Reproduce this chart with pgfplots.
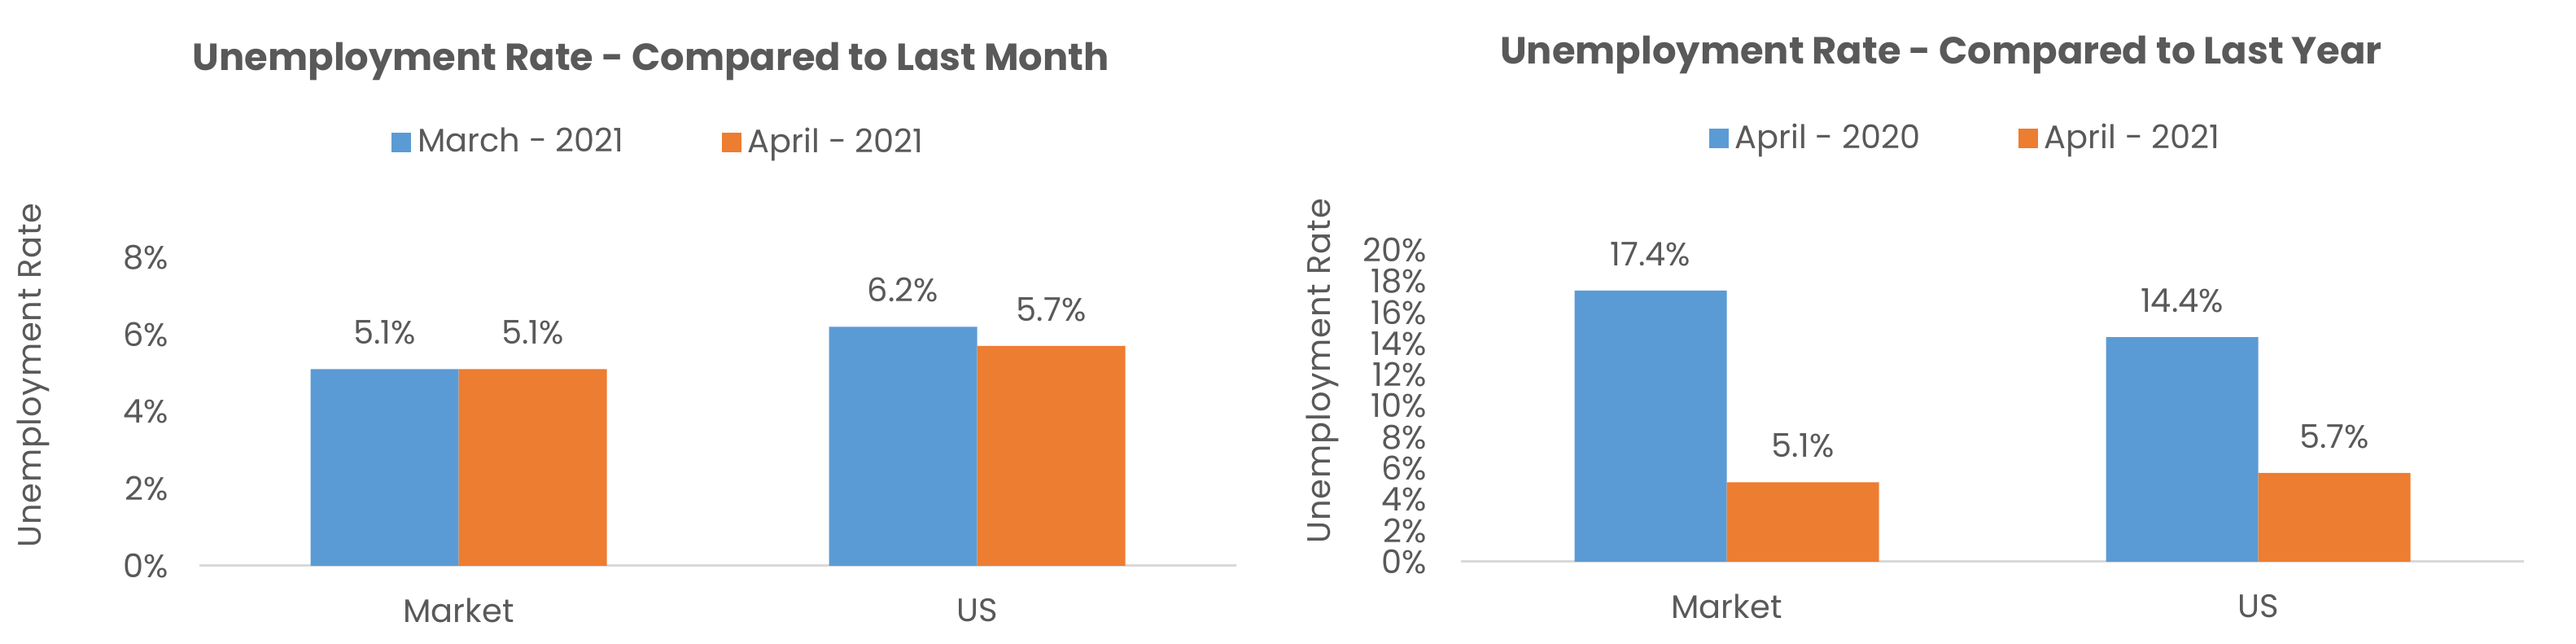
\documentclass[border=0pt]{standalone}
\usepackage{pgfplots}
\pgfplotsset{compat=1.18}
\usepackage{fontspec}
\setmainfont{Poppins}
\newfontfamily\ylabfont[LetterSpace=2]{Poppins}
\definecolor{cblue}{HTML}{5B9BD5}
\definecolor{corange}{HTML}{ED7D31}
\definecolor{ctext}{HTML}{595959}
\definecolor{caxis}{HTML}{D9D9D9}
\pgfplotsset{
  mystyle/.style={
    scale only axis, anchor=south west,
    ybar=0pt,
    enlargelimits=false,
    xmin=-0.5,xmax=1.5, xtick={0,1}, xticklabels={Market,US},
    ymin=0,
    axis x line*=bottom, axis y line*=left,
    x axis line style={draw=caxis, line width=0.75pt, -},
    y axis line style={draw=none},
    major tick length=0pt, tick style={draw=none},
    yticklabel={\pgfmathprintnumber{\tick}\%},
    /pgf/number format/assume math mode=true,
    ticklabel style={font=\fontsize{10}{12}\selectfont, text=ctext},
    xticklabel style={yshift=-6.5pt},
    nodes near coords={\pgfmathprintnumber[fixed,precision=1,fixed zerofill]{\pgfplotspointmeta}\%},
    nodes near coords style={font=\fontsize{10}{12}\selectfont, text=ctext, yshift=4pt},
    legend columns=2,
    legend style={draw=none, fill=none, font=\fontsize{10}{12}\selectfont, text=ctext, anchor=center,
      /tikz/every even column/.append style={column sep=28pt}},
    legend image code/.code={\fill[#1,draw=none] (0pt,-3pt) rectangle (6pt,3pt);},
    title style={font=\fontsize{11.6}{14}\selectfont\bfseries, text=ctext, anchor=center, yshift=-6pt},
    ylabel style={font=\fontsize{10}{12}\selectfont\ylabfont, text=ctext, anchor=center, rotate=0},
  }
}
\begin{document}
\begin{tikzpicture}
\path[use as bounding box] (0,0) rectangle (791.25pt,197.75pt);
\begin{axis}[mystyle,
  at={(61.25pt,24pt)}, width=318.5pt, height=94.75pt,
  ymax=8, ytick={0,2,4,6,8},
  bar width=45.5pt,
  yticklabel style={xshift=-6pt},
  title={Unemployment Rate - Compared to Last Month},
  title style={at={(axis description cs:0.4356,1.635)}},
  legend style={at={(axis description cs:0.445,1.372)}},
  ylabel={Unemployment Rate},
  every axis y label/.append style={at={(axis description cs:-0.160,0.617)}},
]
\addplot[fill=cblue, draw=none] coordinates {(0,5.1) (1,6.2)};
\addplot[fill=corange, draw=none] coordinates {(0,5.1) (1,5.7)};
\legend{March - 2021, April - 2021}
\end{axis}
\begin{axis}[mystyle,
  at={(448.75pt,25.25pt)}, width=326.5pt, height=95.75pt,
  ymax=20, ytick={0,2,...,20},
  bar width=46.75pt,
  yticklabel style={xshift=-7pt},
  title={Unemployment Rate - Compared to Last Year},
  title style={at={(axis description cs:0.4518,1.626)}},
  legend style={at={(axis description cs:0.4767,1.358)}},
  ylabel={Unemployment Rate},
  every axis y label/.append style={at={(axis description cs:-0.130,0.612)}},
]
\addplot[fill=cblue, draw=none] coordinates {(0,17.4) (1,14.4)};
\addplot[fill=corange, draw=none] coordinates {(0,5.1) (1,5.7)};
\legend{April - 2020, April - 2021}
\end{axis}
\end{tikzpicture}
\end{document}
